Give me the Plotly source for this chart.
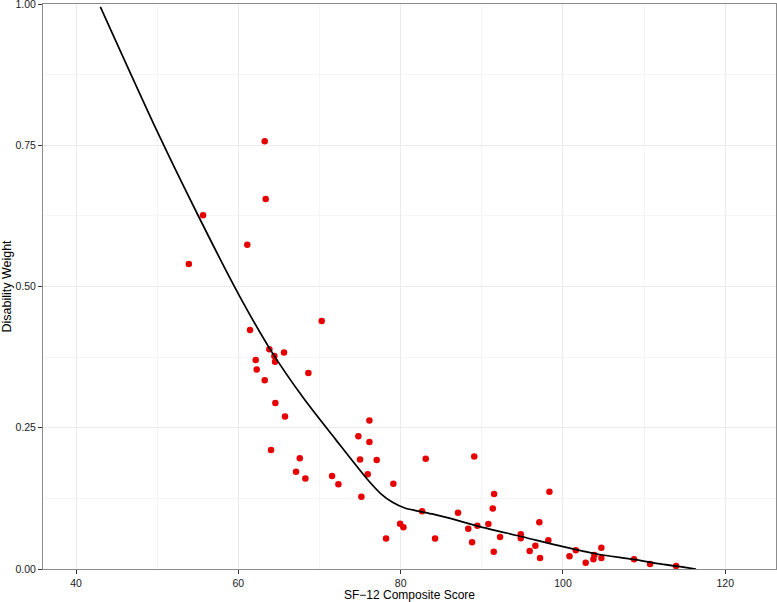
import plotly.graph_objects as go

# Observed points: SF-12 composite score vs disability weight
sf12 = [53.9, 55.65, 61.1, 63.25, 63.37, 61.44, 70.27, 63.82, 64.44, 65.63,
        62.14, 64.52, 62.26, 68.63, 63.25, 64.56, 65.75, 64.03, 67.57, 67.11,
        68.26, 71.55, 72.33, 76.15, 74.79, 76.15, 75.0, 77.05, 83.09, 75.94,
        79.1, 75.16, 82.64, 79.93, 80.34, 78.2, 84.24, 89.07, 87.07, 88.33,
        89.45, 88.8, 91.51, 91.35, 98.33, 90.81, 92.25, 91.47, 97.09, 94.8,
        94.8, 96.6, 98.2, 95.9, 97.18, 100.8, 101.58, 102.8, 103.75, 103.87,
        104.73, 104.73, 108.76, 110.73, 113.94]
dw = [0.540, 0.626, 0.574, 0.757, 0.655, 0.423, 0.439, 0.389, 0.377, 0.383,
      0.370, 0.367, 0.353, 0.347, 0.334, 0.294, 0.270, 0.2105, 0.196, 0.172,
      0.160, 0.1645, 0.150, 0.263, 0.235, 0.225, 0.194, 0.193, 0.195, 0.1675,
      0.151, 0.128, 0.102, 0.080, 0.074, 0.054, 0.054, 0.199, 0.0996, 0.0714,
      0.0766, 0.0472, 0.1327, 0.1073, 0.1368, 0.0796, 0.0566, 0.0306, 0.0826, 0.0613,
      0.0543, 0.0413, 0.0507, 0.0318, 0.0195, 0.0224, 0.033, 0.0112, 0.0171, 0.0248,
      0.0377, 0.0195, 0.0171, 0.0088, 0.0053]

# Fitted curve
fit_x = [43, 50, 55, 60, 64, 68, 72, 76, 77.5, 79, 80.5, 82, 84, 86,
         89.5, 95, 100, 104, 108.7, 112, 116.4]
fit_y = [0.995, 0.7745, 0.627, 0.487, 0.387, 0.303, 0.229, 0.157, 0.134, 0.118,
         0.108, 0.103, 0.097, 0.090, 0.076, 0.057, 0.0395, 0.027, 0.017, 0.009, 0.0]

x_ticks = [40, 60, 80, 100, 120]
y_ticks = [0.00, 0.25, 0.50, 0.75, 1.00]
y_tick_labels = ["0.00", "0.25", "0.50", "0.75", "1.00"]

fig = go.Figure()
fig.add_trace(go.Scatter(x=sf12, y=dw, mode="markers",
                         marker=dict(color="#e60000", size=6.5, line=dict(width=0)),
                         showlegend=False, cliponaxis=False))
fig.add_trace(go.Scatter(x=fit_x, y=fit_y, mode="lines",
                         line=dict(color="black", width=1.7, shape="spline", smoothing=0.8),
                         showlegend=False))

axis_font = dict(family="Liberation Sans, Arial, Helvetica, sans-serif", size=10.5, color="#1a1a1a")
fig.update_layout(
    template="none",
    width=777, height=602,
    margin=dict(l=43, r=1, t=4, b=33, autoexpand=False),
    paper_bgcolor="white", plot_bgcolor="white",
    font=dict(family="Liberation Sans, Arial, Helvetica, sans-serif", color="black"),
    xaxis=dict(range=[35.93, 126.25], tickvals=x_ticks, ticktext=[str(v) for v in x_ticks],
               automargin=False, ticklabeloverflow="allow",
               ticks="outside", ticklen=4, tickcolor="#333333", tickwidth=1,
               showline=True, mirror=True, linecolor="#8c8c8c", linewidth=1,
               showgrid=True, gridcolor="#ebebeb", gridwidth=1, zeroline=False,
               minor=dict(dtick=10, tick0=40, showgrid=True, gridcolor="#f5f5f5", gridwidth=1, ticks=""),
               tickfont=axis_font,
               title=dict(text="SF\u221212 Composite Score", font=dict(size=12, color="black"), standoff=4)),
    yaxis=dict(range=[0, 1], tickvals=y_ticks, ticktext=y_tick_labels,
               automargin=False, ticklabeloverflow="allow",
               ticks="outside", ticklen=4, tickcolor="#333333", tickwidth=1,
               showline=True, mirror=True, linecolor="#8c8c8c", linewidth=1,
               showgrid=True, gridcolor="#ebebeb", gridwidth=1, zeroline=False,
               minor=dict(dtick=0.125, tick0=0, showgrid=True, gridcolor="#f5f5f5", gridwidth=1, ticks=""),
               tickfont=axis_font,
               title=dict(text="Disability Weight", font=dict(size=12.5, color="black"), standoff=2)),
)

fig.write_html("out.html", config={"displayModeBar": False},
               post_script="document.body.style.margin='0';")
